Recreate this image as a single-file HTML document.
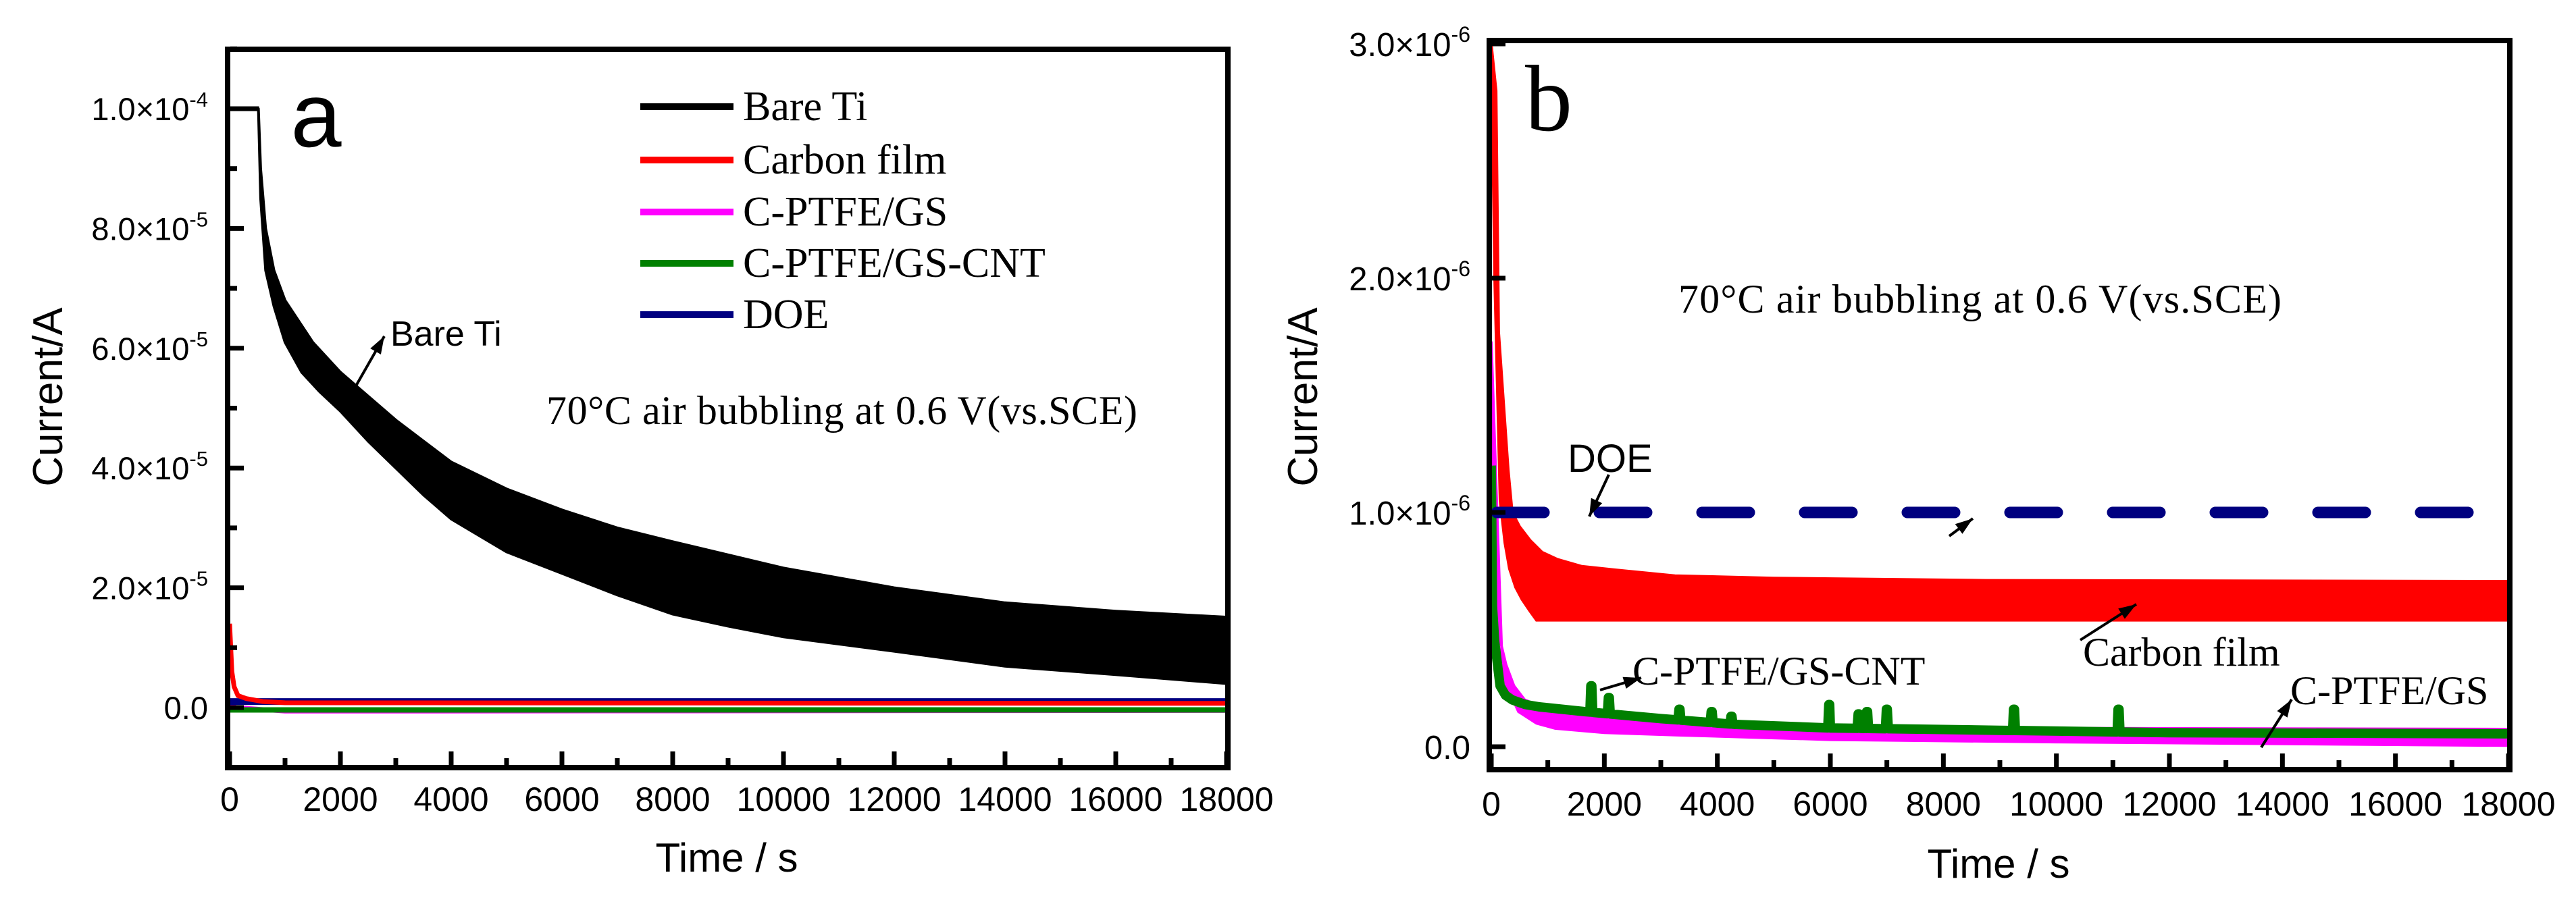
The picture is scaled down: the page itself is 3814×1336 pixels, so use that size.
<!DOCTYPE html>
<html><head><meta charset="utf-8"><style>
html,body{margin:0;padding:0;background:#fff;}
svg{display:block;}
.sans{font-family:"Liberation Sans",Arial,sans-serif;}
.serif{font-family:"Liberation Serif","Times New Roman",serif;}
</style></head><body>
<svg id="fig" width="3814" height="1336" viewBox="0 0 3814 1336" xmlns="http://www.w3.org/2000/svg">
<defs>
<clipPath id="clipA"><rect x="341" y="77" width="1474" height="1056"/></clipPath>
<clipPath id="clipB"><rect x="2209" y="64" width="1503" height="1072"/></clipPath>
</defs>
<g id="panelA"></g>
<g id="panelB"></g>
</svg>
<script>
// ---------- Panel A data (current in units of 1e-5 A) ----------
const aXTicks = [0,2000,4000,6000,8000,10000,12000,14000,16000,18000];
const aYTicks = [0,2,4,6,8,10];
const aYTickLabels = ["0.0","2.0×10","4.0×10","6.0×10","8.0×10","1.0×10"];
const aYTickExps = ["","-5","-5","-5","-5","-4"];
const bareFlatT = [0,530];
const bareFlatV = [10,10];
const bareUpperT = [0,520,560,650,800,1000,1500,2000,2500,3000,3500,4000,5000,6000,7000,8000,9000,10000,12000,14000,16000,18000];
const bareUpperV = [10,10,9.0,8.0,7.3,6.8,6.1,5.6,5.2,4.8,4.45,4.1,3.65,3.3,3.0,2.77,2.55,2.33,2.0,1.75,1.61,1.51];
const bareLowerT = [0,520,560,650,800,1000,1300,1620,2000,2500,3000,3500,4000,5000,6000,7000,8000,9000,10000,12000,14000,16000,18000];
const bareLowerV = [10,10,8.5,7.3,6.7,6.1,5.6,5.28,4.95,4.45,4.0,3.55,3.15,2.6,2.24,1.88,1.56,1.36,1.18,0.94,0.69,0.55,0.40];
const aCarbonT = [0,10,40,80,150,300,600,1000,18000];
const aCarbonV = [1.4,1.2,0.6,0.35,0.2,0.15,0.1,0.08,0.07];
const aPtfeT = [0,100,1000,2000,18000];
const aPtfeV = [0.1,0.0,-0.06,-0.06,-0.05];
const aCntT = [0,18000];
const aCntV = [-0.04,-0.04];
const aDoeT = [0,18000];
const aDoeV = [0.1,0.1];

// ---------- Panel B data (current in units of 1e-6 A) ----------
const bXTicks = [0,2000,4000,6000,8000,10000,12000,14000,16000,18000];
const bYTicks = [0,1,2,3];
const bYTickLabels = ["0.0","1.0×10","2.0×10","3.0×10"];
const bYTickExps = ["","-6","-6","-6"];
const carbonUpperT = [0,85,130,300,370,500,690,900,1170,1600,2190,3250,5000,8750,18000];
const carbonUpperV = [3.0,2.8,1.77,1.18,1.0,0.94,0.88,0.83,0.8,0.77,0.755,0.73,0.72,0.71,0.706];
const carbonLowerT = [0,60,155,240,320,430,540,680,800,18000];
const carbonLowerV = [3.0,2.0,1.05,0.87,0.76,0.68,0.63,0.58,0.54,0.54];
const ptfeUpperT = [0,50,150,260,400,590,900,1200,2190,4000,8000,18000];
const ptfeUpperV = [1.73,0.70,0.46,0.35,0.26,0.20,0.17,0.15,0.12,0.09,0.08,0.075];
const ptfeLowerT = [0,200,480,800,1130,2000,3260,6000,10000,18000];
const ptfeLowerV = [1.73,0.3,0.15,0.1,0.078,0.06,0.05,0.03,0.02,0.005];
const cntT = [0,20,60,155,250,370,600,850,1650,3000,4330,6000,9000,12000,18000];
const cntV = [1.2,0.6,0.45,0.26,0.22,0.2,0.18,0.17,0.15,0.12,0.095,0.08,0.07,0.06,0.055];
const cntSpikeT = [1770,2080,3330,3900,4250,5980,6500,6650,7000,9250,11100];
const cntSpikeV = [0.26,0.21,0.16,0.15,0.13,0.18,0.14,0.15,0.16,0.16,0.16];
const bDoeT = [0,18000];
const bDoeV = [1.0,1.0];

const NS = "http://www.w3.org/2000/svg";
function mk(tag, attrs, parent){
  const e = document.createElementNS(NS, tag);
  for (const k in attrs) e.setAttribute(k, attrs[k]);
  parent.appendChild(e);
  return e;
}
const axA = {x: t => 340 + t*(1816-340)/18000, y: v => 1048 - v*88.7};
const axB = {x: t => 2208 + t*(3714-2208)/18000, y: v => 1106 - v*347};

function pts(ax, T, V){ return T.map((t,i)=>ax.x(t).toFixed(1)+","+ax.y(V[i]).toFixed(1)); }
function band(ax, UT, UV, LT, LV){
  return pts(ax, UT, UV).concat(pts(ax, LT, LV).reverse()).join(" ");
}
function interp(T, V, t){
  for (let i=1;i<T.length;i++){ if (t<=T[i]){ const f=(t-T[i-1])/(T[i]-T[i-1]); return V[i-1]+f*(V[i]-V[i-1]); } }
  return V[V.length-1];
}

// ================= PANEL A =================
const A = document.getElementById('panelA');
const gA = mk('g', {'clip-path':'url(#clipA)'}, A);
let e;
e = mk('polygon', {points: band(axA, bareUpperT, bareUpperV, bareLowerT, bareLowerV), fill:'#000', stroke:'#000', 'stroke-width':4, 'stroke-linejoin':'round'}, gA);


e = mk('polyline', {points: pts(axA, bareFlatT, bareFlatV).join(" "), fill:'none', stroke:'#000', 'stroke-width':7}, gA);


e = mk('polyline', {points: pts(axA, aPtfeT, aPtfeV).join(" "), fill:'none', stroke:'#ff00ff', 'stroke-width':7}, gA);


e = mk('polyline', {points: pts(axA, aCntT, aCntV).join(" "), fill:'none', stroke:'#008000', 'stroke-width':8}, gA);


e = mk('polyline', {points: pts(axA, aDoeT, aDoeV).join(" "), fill:'none', stroke:'#000080', 'stroke-width':10}, gA);


e = mk('polyline', {points: pts(axA, aCarbonT, aCarbonV).join(" "), fill:'none', stroke:'#ff0000', 'stroke-width':7}, gA);



e = mk('rect', {x:337, y:73, width:1481, height:1064, fill:'none', stroke:'#000', 'stroke-width':8}, A);


aXTicks.forEach((t,i)=>{
  const x = axA.x(t);
  const tk = mk('line', {x1:x, x2:x, y1:1133, y2:1113, stroke:'#000', 'stroke-width':7}, A);
  
  
  if (i < aXTicks.length-1){
    const xm = axA.x(t+1000);
    const mt = mk('line', {x1:xm, x2:xm, y1:1133, y2:1123, stroke:'#000', 'stroke-width':7}, A);
    
    
  }
  const lb = mk('text', {x:x, y:1201, 'text-anchor':'middle', 'font-size':50, class:'sans'}, A);
  lb.textContent = String(t);
  
  
});
aYTicks.forEach((v,i)=>{
  const y = axA.y(v);
  const tk = mk('line', {x1:341, x2:361, y1:y, y2:y, stroke:'#000', 'stroke-width':7}, A);
  
  
  const ym = axA.y(v+1);
  const mt = mk('line', {x1:341, x2:351, y1:ym, y2:ym, stroke:'#000', 'stroke-width':7}, A);
  
  
  const lb = mk('text', {x:308, y:y+17, 'text-anchor':'end', 'font-size':47, class:'sans'}, A);
  lb.textContent = aYTickLabels[i];
  if (aYTickExps[i]){
    const sp = mk('tspan', {dy:-20, 'font-size':31}, lb);
    sp.textContent = aYTickExps[i];
  }
  
  
});
{
  const ym = axA.y(-1);
  const mt = mk('line', {x1:341, x2:351, y1:ym, y2:ym, stroke:'#000', 'stroke-width':7}, A);
  
  
}
e = mk('text', {x:1076, y:1291, 'text-anchor':'middle', 'font-size':60, class:'sans'}, A);
e.textContent = 'Time / s';


e = mk('text', {x:0, y:0, 'text-anchor':'middle', 'font-size':62, class:'sans', transform:'translate(92,588) rotate(-90)'}, A);
e.textContent = 'Current/A';


e = mk('text', {x:468, y:217, 'text-anchor':'middle', 'font-size':135, class:'sans'}, A);
e.textContent = 'a';


const legNames = ['Bare Ti','Carbon film','C-PTFE/GS','C-PTFE/GS-CNT','DOE'];
const legColors = ['#000000','#ff0000','#ff00ff','#008000','#000080'];
const legY = [158,237,314,390,466];
legNames.forEach((n,i)=>{
  const g = mk('g', {}, A);
  
  
  mk('line', {x1:948, x2:1086, y1:legY[i], y2:legY[i], stroke:legColors[i], 'stroke-width':10}, g);
  const t = mk('text', {x:1100, y:legY[i]+20, 'font-size':62, class:'serif'}, g);
  t.textContent = n;
});
e = mk('text', {x:809, y:628, 'font-size':60, class:'serif', textLength:875}, A);
e.textContent = '70°C air bubbling at 0.6 V(vs.SCE)';


e = mk('text', {x:578, y:512, 'font-size':52, class:'sans'}, A);
e.textContent = 'Bare Ti';



function arrow(parent, x1,y1,x2,y2, name){
  const g = mk('g', {}, parent);
  
  
  mk('line', {x1:x1,y1:y1,x2:x2,y2:y2, stroke:'#000', 'stroke-width':4}, g);
  const a = Math.atan2(y2-y1, x2-x1), L=26, W=9;
  const bx = x2 - L*Math.cos(a), by = y2 - L*Math.sin(a);
  const p = [x2+','+y2, (bx + W*Math.sin(a))+','+(by - W*Math.cos(a)), (bx - W*Math.sin(a))+','+(by + W*Math.cos(a))];
  mk('polygon', {points:p.join(' '), fill:'#000'}, g);
}
arrow(A, 525,575, 569,498, 'bare-ti-arrow');

// ================= PANEL B =================
const B = document.getElementById('panelB');
const gB = mk('g', {'clip-path':'url(#clipB)'}, B);
e = mk('polygon', {points: band(axB, carbonUpperT, carbonUpperV, carbonLowerT, carbonLowerV), fill:'#ff0000', stroke:'#ff0000', 'stroke-width':4}, gB);


e = mk('polygon', {points: band(axB, ptfeUpperT, ptfeUpperV, ptfeLowerT, ptfeLowerV), fill:'#ff00ff', stroke:'#ff00ff', 'stroke-width':4}, gB);


{
  const all = [];
  cntT.forEach((t,i)=>all.push([t, cntV[i]]));
  cntSpikeT.forEach((t,i)=>{
    all.push([t-25, interp(cntT,cntV,t-25)]);
    all.push([t-8, cntSpikeV[i]]);
    all.push([t+8, cntSpikeV[i]]);
    all.push([t+25, interp(cntT,cntV,t+25)]);
  });
  all.sort((p,q)=>p[0]-q[0]);
  const p = all.map(q=>axB.x(q[0]).toFixed(1)+','+axB.y(q[1]).toFixed(1)).join(' ');
  e = mk('polyline', {points:p, fill:'none', stroke:'#008000', 'stroke-width':14, 'stroke-linejoin':'round'}, gB);
  
  
}
e = mk('polyline', {points: pts(axB, bDoeT, bDoeV).join(" "), fill:'none', stroke:'#000080', 'stroke-width':17, 'stroke-dasharray':'70 82', 'stroke-dashoffset':'-8', 'stroke-linecap':'round'}, gB);



e = mk('rect', {x:2205, y:60, width:1511, height:1080, fill:'none', stroke:'#000', 'stroke-width':8}, B);


bXTicks.forEach((t,i)=>{
  const x = axB.x(t);
  const tk = mk('line', {x1:x, x2:x, y1:1136, y2:1116, stroke:'#000', 'stroke-width':7}, B);
  
  
  if (i < bXTicks.length-1){
    const xm = axB.x(t+1000);
    const mt = mk('line', {x1:xm, x2:xm, y1:1136, y2:1126, stroke:'#000', 'stroke-width':7}, B);
    
    
  }
  const lb = mk('text', {x:x, y:1208, 'text-anchor':'middle', 'font-size':50, class:'sans'}, B);
  lb.textContent = String(t);
  
  
});
bYTicks.forEach((v,i)=>{
  const y = axB.y(v);
  const tk = mk('line', {x1:2209, x2:2229, y1:y, y2:y, stroke:'#000', 'stroke-width':7}, B);
  
  
  const lb = mk('text', {x:2177, y:y+18, 'text-anchor':'end', 'font-size':49, class:'sans'}, B);
  lb.textContent = bYTickLabels[i];
  if (bYTickExps[i]){
    const sp = mk('tspan', {dy:-21, 'font-size':32}, lb);
    sp.textContent = bYTickExps[i];
  }
  
  
});
e = mk('text', {x:2959, y:1300, 'text-anchor':'middle', 'font-size':60, class:'sans'}, B);
e.textContent = 'Time / s';


e = mk('text', {x:0, y:0, 'text-anchor':'middle', 'font-size':62, class:'sans', transform:'translate(1950,588) rotate(-90)'}, B);
e.textContent = 'Current/A';


e = mk('text', {x:2293, y:193, 'text-anchor':'middle', 'font-size':140, class:'serif'}, B);
e.textContent = 'b';


e = mk('text', {x:2485, y:463, 'font-size':60, class:'serif', textLength:893}, B);
e.textContent = '70°C air bubbling at 0.6 V(vs.SCE)';


e = mk('text', {x:2321, y:699, 'font-size':58, class:'sans'}, B);
e.textContent = 'DOE';


arrow(B, 2382,703, 2353,765, 'doe-arrow');
arrow(B, 2886,794, 2921,768, 'doe-arrow-2');
e = mk('text', {x:3084, y:986, 'font-size':60, class:'serif'}, B);
e.textContent = 'Carbon film';


arrow(B, 3080,948, 3163,895, 'carbon-film-arrow');
e = mk('text', {x:2417, y:1014, 'font-size':60, class:'serif'}, B);
e.textContent = 'C-PTFE/GS-CNT';


arrow(B, 2369,1022, 2430,1004, 'c-ptfe-gs-cnt-arrow');
e = mk('text', {x:3391, y:1043, 'font-size':60, class:'serif'}, B);
e.textContent = 'C-PTFE/GS';


arrow(B, 3348,1107, 3393,1036, 'c-ptfe-gs-arrow');
</script>
</body></html>
